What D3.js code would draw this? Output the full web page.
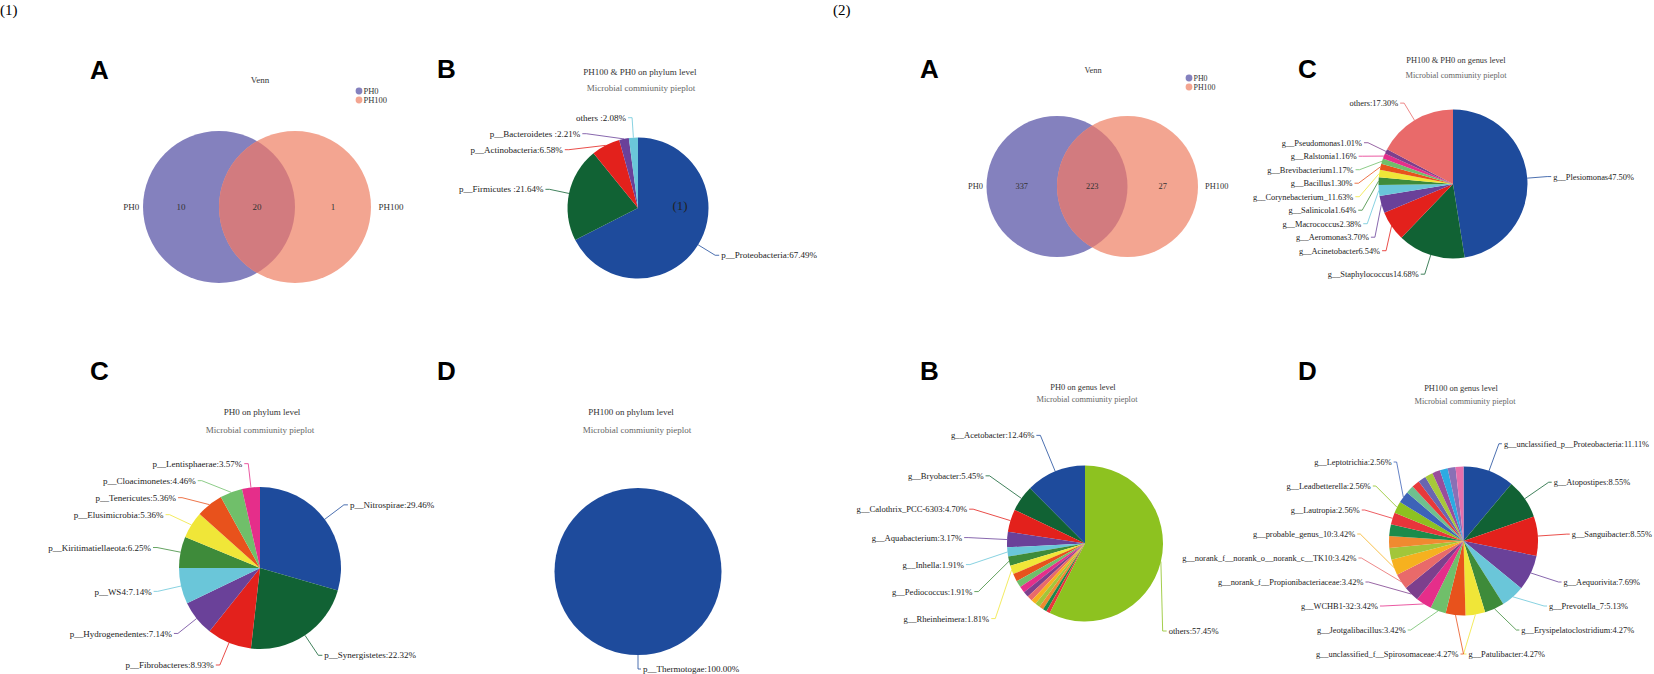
<!DOCTYPE html>
<html>
<head>
<meta charset="utf-8">
<script src="https://cdn.jsdelivr.net/npm/d3@7"></script>
<style>
  body { margin: 0; background: #fff; }
  svg { display: block; font-family: "Liberation Serif", "DejaVu Serif", serif; }
</style>
</head>
<body>
<svg id="chart" width="1654" height="674"></svg>
<script>
// ---------- data ----------
var vennSets = ["PH0", "PH100"];
// PH0 only, shared, PH100 only
var phylumVennCounts = [10, 20, 1];
var genusVennCounts = [337, 223, 27];

var phyBothValues = [67.49, 21.64, 6.58, 2.21, 2.08];
var phyBothLabels = ["p__Proteobacteria:67.49%", "p__Firmicutes :21.64%", "p__Actinobacteria:6.58%",
    "p__Bacteroidetes :2.21%", "others :2.08%"];

var phyPH0Values = [29.46, 22.32, 8.93, 7.14, 7.14, 6.25, 5.36, 5.36, 4.46, 3.57];
var phyPH0Labels = ["p__Nitrospirae:29.46%", "p__Synergistetes:22.32%", "p__Fibrobacteres:8.93%",
    "p__Hydrogenedentes:7.14%", "p__WS4:7.14%", "p__Kiritimatiellaeota:6.25%", "p__Elusimicrobia:5.36%",
    "p__Tenericutes:5.36%", "p__Cloacimonetes:4.46%", "p__Lentisphaerae:3.57%"];

var phyPH100Values = [100];
var phyPH100Labels = ["p__Thermotogae:100.00%"];

var genBothValues = [47.50, 14.68, 6.54, 3.70, 2.38, 1.64, 1.63, 1.30, 1.17, 1.16, 1.01, 17.30];
var genBothLabels = ["g__Plesiomonas47.50%", "g__Staphylococcus14.68%", "g__Acinetobacter6.54%",
    "g__Aeromonas3.70%", "g__Macrococcus2.38%", "g__Salinicola1.64%", "g__Corynebacterium_11.63%",
    "g__Bacillus1.30%", "g__Brevibacterium1.17%", "g__Ralstonia1.16%", "g__Pseudomonas1.01%", "others:17.30%"];

// small unlabelled genera keep a null label
var genPH0Values = [12.46, 5.45, 4.70, 3.17, 1.91, 1.91, 1.81,
    1.61, 1.40, 1.30, 1.20, 1.10, 1.05, 1.00, 0.90, 0.80, 0.78, 57.45];
var genPH0Labels = ["g__Acetobacter:12.46%", "g__Bryobacter:5.45%", "g__Calothrix_PCC-6303:4.70%",
    "g__Aquabacterium:3.17%", "g__Inhella:1.91%", "g__Pediococcus:1.91%", "g__Rheinheimera:1.81%",
    null, null, null, null, null, null, null, null, null, null, "others:57.45%"];

var genPH100Values = [11.11, 8.55, 8.55, 7.69, 5.13, 4.27, 4.27, 4.27, 3.42, 3.42, 3.42, 3.42, 3.42,
    2.56, 2.56, 2.56, 2.56, 2.56, 2.56, 1.71, 1.71, 1.71, 1.71, 1.71, 1.71, 1.71, 1.71];
var genPH100Labels = ["g__unclassified_p__Proteobacteria:11.11%", "g__Atopostipes:8.55%",
    "g__Sanguibacter:8.55%", "g__Aequorivita:7.69%", "g__Prevotella_7:5.13%",
    "g__Erysipelatoclostridium:4.27%", "g__Patulibacter:4.27%", "g__unclassified_f__Spirosomaceae:4.27%",
    "g__Jeotgalibacillus:3.42%", "g__WCHB1-32:3.42%", "g__norank_f__Propionibacteriaceae:3.42%",
    "g__norank_f__norank_o__norank_c__TK10:3.42%", "g__probable_genus_10:3.42%",
    null, null, null, "g__Lautropia:2.56%", "g__Leadbetterella:2.56%", "g__Leptotrichia:2.56%",
    null, null, null, null, null, null, null, null];

var palette = ["#1e4b9c", "#116234", "#e3211c", "#6a4199", "#6ac6d9", "#3e8b3a", "#f0e638", "#e8521c",
    "#70bf6a", "#e52e8a", "#7d3f8d", "#e96a6a", "#f6b11f", "#a2c63a", "#f08a30", "#1b8b4b",
    "#e8353b", "#8dc220", "#3d63b8", "#6fc08f", "#e8393b", "#6a65b0", "#a7c83a", "#9a4d9b",
    "#2caae2", "#8a70b5", "#e76fab"];
var vennColors = ["#8481be", "#f3a591"];
var overlapColor = "#d27b7f";

var svg = d3.select("#chart");

// ---------- helpers ----------
function letter(txt, x, y) {
    svg.append("text").attr("x", x).attr("y", y)
        .style("font-family", "'Liberation Sans', Arial, sans-serif")
        .style("font-weight", "bold").style("font-size", "26px")
        .text(txt);
}

function titles(t1, x1, y1, t2, x2, y2, fs) {
    svg.append("text").attr("x", x1).attr("y", y1).attr("text-anchor", "middle")
        .style("font-size", fs + "px").attr("fill", "#333").text(t1);
    svg.append("text").attr("x", x2).attr("y", y2).attr("text-anchor", "middle")
        .style("font-size", fs + "px").attr("fill", "#666").text(t2);
}

function drawVenn(o) {
    var g = svg.append("g");
    var x = d3.scaleLinear().domain([-1, 1]).range([o.cx - o.r, o.cx + o.r]);
    var id = "clip" + o.id;

    g.append("clipPath").attr("id", id)
        .append("circle").attr("cx", x(-0.5)).attr("cy", o.cy).attr("r", o.r);

    g.selectAll("circle.set")
        .data(vennSets)
        .enter().append("circle")
        .attr("class", "set")
        .attr("cx", function (d, i) { return x(i ? 0.5 : -0.5); })
        .attr("cy", o.cy)
        .attr("r", o.r)
        .attr("fill", function (d, i) { return vennColors[i]; });

    g.append("circle")
        .attr("cx", x(0.5)).attr("cy", o.cy).attr("r", o.r)
        .attr("clip-path", "url(#" + id + ")")
        .attr("fill", overlapColor);

    g.selectAll("text.count")
        .data(o.counts)
        .enter().append("text")
        .attr("class", "count")
        .attr("x", function (d, i) { return x(i - 1); })
        .attr("y", o.cy).attr("dy", "0.35em")
        .attr("text-anchor", "middle")
        .style("font-size", o.fs + "px").attr("fill", "#333")
        .text(function (d) { return d; });

    g.selectAll("text.setname")
        .data(vennSets)
        .enter().append("text")
        .attr("class", "setname")
        .attr("x", function (d, i) { return x(i ? 1.6 : -1.55); })
        .attr("y", o.cy).attr("dy", "0.35em")
        .attr("text-anchor", function (d, i) { return i ? "start" : "end"; })
        .style("font-size", o.fs + "px").attr("fill", "#333")
        .text(function (d) { return d; });

    g.append("text").attr("x", o.titleX).attr("y", o.titleY).attr("text-anchor", "middle")
        .style("font-size", o.fs + "px").attr("fill", "#333").text("Venn");

    var lg = g.selectAll("g.leg")
        .data(vennSets)
        .enter().append("g")
        .attr("transform", function (d, i) { return "translate(" + o.legX + "," + (o.legY + i * 9) + ")"; });
    lg.append("circle").attr("r", 3.4).attr("fill", function (d, i) { return vennColors[i]; });
    lg.append("text").attr("x", 4.5).attr("dy", "0.35em")
        .style("font-size", (o.fs - 0.5) + "px").attr("fill", "#333")
        .text(function (d) { return d; });
}

// push labels of one side apart, inside optional bounds
function spread(list, gap, minY, maxY) {
    list.sort(function (a, b) { return a.y - b.y; });
    var last = minY - gap;
    list.forEach(function (o) { o.y = Math.max(o.y, last + gap); last = o.y; });
    var next = maxY + gap;
    for (var k = list.length - 1; k >= 0; k--) {
        list[k].y = Math.min(list[k].y, next - gap);
        next = list[k].y;
    }
}

function drawPie(o) {
    var g = svg.append("g");
    var pie = d3.pie().sort(null).value(function (d) { return d; })
        .startAngle(0).endAngle(o.ccw ? -2 * Math.PI : 2 * Math.PI);
    var arcs = pie(o.values);
    var arc = d3.arc().innerRadius(0).outerRadius(o.r);

    g.selectAll("path.slice")
        .data(arcs)
        .enter().append("path")
        .attr("class", "slice")
        .attr("transform", "translate(" + o.cx + "," + o.cy + ")")
        .attr("d", arc)
        .attr("fill", function (d, i) { return palette[i]; });

    var R = o.r + o.labelOffset;
    var items = [];
    arcs.forEach(function (d, i) {
        if (!o.labels[i]) return;
        var a = (d.startAngle + d.endAngle) / 2;
        items.push({
            i: i, a: a, text: o.labels[i],
            side: Math.sin(a) >= -1e-9 ? 1 : -1,
            y: o.cy - Math.cos(a) * R
        });
    });
    var b = o.bounds || {};
    [-1, 1].forEach(function (s) {
        var lim = b[s > 0 ? "right" : "left"] || [-Infinity, Infinity];
        spread(items.filter(function (it) { return it.side === s; }), o.gap,
            o.cy + lim[0], o.cy + lim[1]);
    });

    items.forEach(function (it) {
        var dy = it.y - o.cy;
        var dx = Math.sqrt(Math.max(0, R * R - dy * dy));
        it.pts = [
            [o.cx + Math.sin(it.a) * o.r, o.cy - Math.cos(it.a) * o.r],
            [o.cx + it.side * dx, it.y],
            [o.cx + it.side * (dx + o.len2), it.y]
        ];
    });

    g.selectAll("polyline")
        .data(items)
        .enter().append("polyline")
        .attr("points", function (d) { return d.pts.join(" "); })
        .attr("fill", "none")
        .attr("stroke", function (d) { return palette[d.i]; })
        .attr("stroke-width", 0.8);

    g.selectAll("text.lab")
        .data(items)
        .enter().append("text")
        .attr("class", "lab")
        .attr("x", function (d) { return d.pts[2][0] + d.side * 2; })
        .attr("y", function (d) { return d.y; })
        .attr("dy", "0.35em")
        .attr("text-anchor", function (d) { return d.side > 0 ? "start" : "end"; })
        .style("font-size", o.fs + "px").attr("fill", "#222")
        .text(function (d) { return d.text; });
}

// ---------- (1) phylum ----------
svg.append("text").attr("x", 0).attr("y", 15).style("font-size", "15px").text("(1)");

letter("A", 90, 79);
drawVenn({ id: 1, cx: 257, cy: 207, r: 76, counts: phylumVennCounts, fs: 9,
    titleX: 260, titleY: 83, legX: 359, legY: 91 });

letter("B", 437, 78);
titles("PH100 & PH0 on phylum level", 640, 75, "Microbial commiunity pieplot", 641, 91, 9);
drawPie({ cx: 638, cy: 208, r: 70.5, values: phyBothValues, labels: phyBothLabels, fs: 9,
    labelOffset: 20, gap: 16, len2: 4 });
svg.append("text").attr("x", 680).attr("y", 210).attr("text-anchor", "middle")
    .style("font-size", "13px").attr("fill", "#222").text("(1)");

letter("C", 90, 380);
titles("PH0 on phylum level", 262, 415, "Microbial commiunity pieplot", 260, 433, 9);
drawPie({ cx: 260, cy: 568, r: 81, values: phyPH0Values, labels: phyPH0Labels, fs: 9,
    labelOffset: 24, gap: 17, len2: 4 });

letter("D", 437, 380);
titles("PH100 on phylum level", 631, 415, "Microbial commiunity pieplot", 637, 433, 9);
drawPie({ cx: 638, cy: 571.5, r: 83.5, values: phyPH100Values, labels: phyPH100Labels, fs: 9,
    labelOffset: 14, gap: 16, len2: 3 });

// ---------- (2) genus ----------
svg.append("text").attr("x", 833).attr("y", 15).style("font-size", "15px").text("(2)");

letter("A", 920, 78);
drawVenn({ id: 2, cx: 1092.25, cy: 186.5, r: 70.5, counts: genusVennCounts, fs: 8.4,
    titleX: 1093, titleY: 73, legX: 1189, legY: 78 });

letter("C", 1298, 78);
titles("PH100 & PH0 on genus level", 1456, 63, "Microbial commiunity pieplot", 1456, 78, 8.4);
drawPie({ cx: 1453, cy: 184, r: 74.5, values: genBothValues, labels: genBothLabels, fs: 8.4,
    labelOffset: 20, gap: 13.5, len2: 4 });

letter("B", 920, 380);
titles("PH0 on genus level", 1083, 390, "Microbial commiunity pieplot", 1087, 402, 8.4);
drawPie({ cx: 1085, cy: 543.5, r: 78, values: genPH0Values, labels: genPH0Labels, ccw: true, fs: 8.6,
    labelOffset: 39, gap: 27, len2: 4, bounds: { right: [87.5, Infinity] } });

letter("D", 1298, 380);
titles("PH100 on genus level", 1461, 391, "Microbial commiunity pieplot", 1465, 404, 8.4);
drawPie({ cx: 1463.5, cy: 541, r: 74.5, values: genPH100Values, labels: genPH100Labels, fs: 8.4,
    labelOffset: 29, gap: 24, len2: 3, bounds: { left: [-Infinity, 113], right: [-Infinity, 113] } });
</script>
</body>
</html>
